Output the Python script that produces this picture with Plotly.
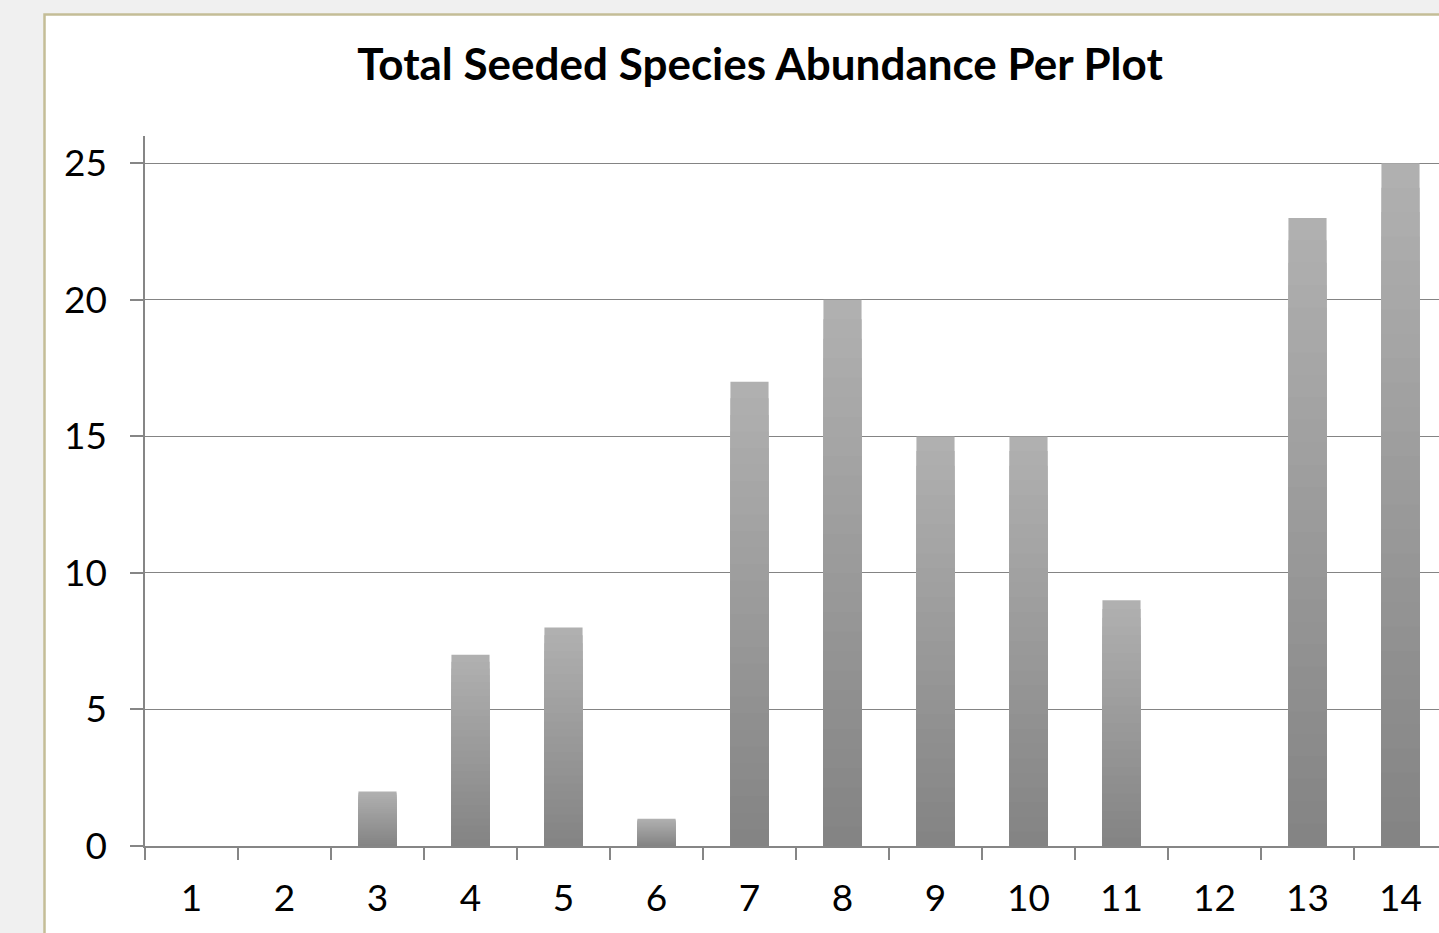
import plotly.graph_objects as go

# ---- data ----
plots = ["1", "2", "3", "4", "5", "6", "7", "8", "9", "10", "11", "12", "13", "14"]
abundance = [0, 0, 2, 7, 8, 1, 17, 20, 15, 15, 9, 0, 23, 25]
y_ticks = [0, 5, 10, 15, 20, 25]
title_text = "Total Seeded Species Abundance Per Plot"

FONT = "Lato"
GRAY = "#868686"

fig = go.Figure()

# vertical gradient per bar: overlaid bars of decreasing height, light (top) to dark (bottom)
N = 28
top_rgb = (176, 176, 176)
bot_rgb = (132, 132, 132)
for k in range(N):
    frac = 1 - k / N
    t = k / (N - 1)
    c = tuple(round(top_rgb[i] + (bot_rgb[i] - top_rgb[i]) * t) for i in range(3))
    fig.add_trace(go.Bar(
        x=plots,
        y=[v * frac for v in abundance],
        width=0.41,
        marker=dict(color="rgb(%d,%d,%d)" % c, line=dict(width=0)),
        showlegend=False,
        hoverinfo="skip" if k else "x+y",
    ))

fig.update_layout(
    barmode="overlay",
    width=1439,
    height=933,
    margin=dict(l=145, r=0, t=136, b=87),
    paper_bgcolor="#f0f0f0",
    plot_bgcolor="rgba(0,0,0,0)",
    font=dict(family=FONT, color="black"),
    title=dict(
        text="<b>" + title_text + "</b>",
        font=dict(family=FONT, size=44, color="black"),
        x=760 / 1439, xref="container", xanchor="center",
        y=1 - 65 / 933, yref="container", yanchor="middle",
    ),
    xaxis=dict(
        type="category",
        range=[-0.5, 13.414],
        showline=True, linecolor=GRAY, linewidth=1.5,
        ticks="outside", ticklen=12, tickwidth=1.5, tickcolor=GRAY,
        tickson="boundaries",
        showgrid=False,
        tickfont=dict(family=FONT, size=37, color="black"),
        ticklabelstandoff=19,
    ),
    yaxis=dict(
        range=[0, 26],
        tickvals=y_ticks,
        showline=True, linecolor=GRAY, linewidth=1.5,
        ticks="outside", ticklen=13, tickwidth=1.5, tickcolor=GRAY,
        showgrid=True, gridcolor="#848484", gridwidth=1.4,
        zeroline=False,
        tickfont=dict(family=FONT, size=37, color="black"),
        ticklabelstandoff=16,
    ),
    shapes=[dict(
        type="rect", xref="paper", yref="paper",
        x0=(44.5 - 145) / 1294, x1=1.2, y0=-0.3, y1=(846 - 14.5) / 710,
        fillcolor="white", line=dict(color="#c4bd97", width=2.5),
        layer="below",
    )],
)

fig.write_html("out.html", config={"displayModeBar": False},
               post_script="document.body.style.margin='0';document.body.style.overflow='hidden';")
